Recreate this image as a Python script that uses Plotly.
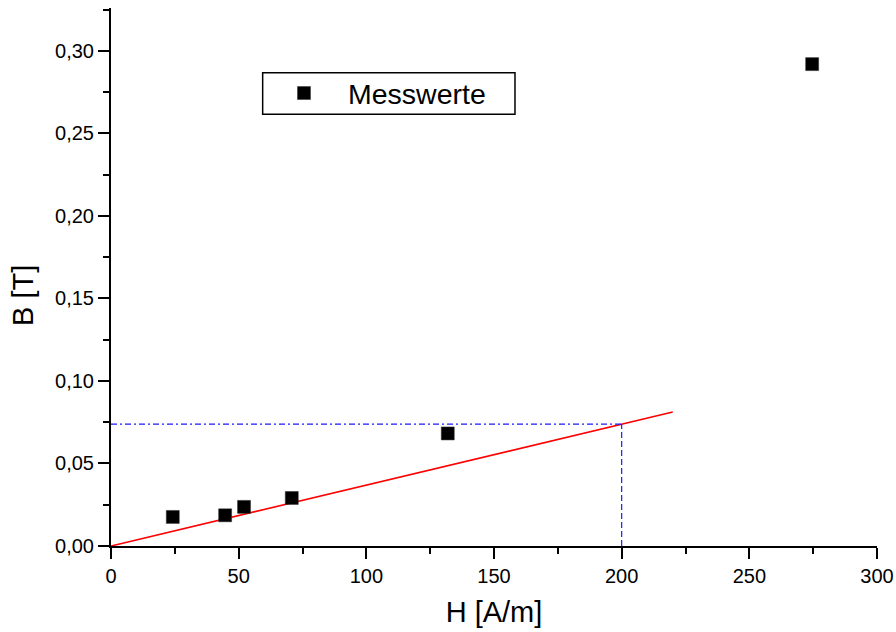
import plotly.graph_objects as go

# Measured magnetisation values
H_values = [24.2, 44.7, 52.1, 70.8, 131.9, 274.6]   # A/m
B_values = [0.0176, 0.0186, 0.0237, 0.0291, 0.0682, 0.292]  # T

# Linear fit through origin and reading at H = 200 A/m
fit_slope = 0.000369   # T per A/m
fit_H = [0, 220]
H_read = 200

fit_B = [fit_slope * h for h in fit_H]
B_read = fit_slope * H_read

FONT = "Arial, Liberation Sans, sans-serif"

fig = go.Figure()

# Red regression line
fig.add_trace(go.Scatter(
    x=fit_H, y=fit_B, mode="lines",
    line=dict(color="#ff0000", width=1.6),
    showlegend=False, hoverinfo="skip",
))

# Blue reading guides
fig.add_trace(go.Scatter(
    x=[0, H_read], y=[B_read, B_read], mode="lines",
    line=dict(color="#1a1aff", width=1.2, dash="6px,3px,2px,3px"),
    showlegend=False, hoverinfo="skip",
))
fig.add_trace(go.Scatter(
    x=[H_read, H_read], y=[0, B_read], mode="lines",
    line=dict(color="#1a1aff", width=1.2, dash="6px,3px"),
    showlegend=False, hoverinfo="skip",
))

# Measurement points
fig.add_trace(go.Scatter(
    x=H_values, y=B_values, mode="markers", name="Messwerte",
    marker=dict(symbol="square", size=13, color="black",
                line=dict(color="#333333", width=0.5)),
))

axis_common = dict(
    showline=True, linecolor="black", linewidth=2,
    ticks="outside", ticklen=11, tickwidth=2, tickcolor="black",
    showgrid=False, zeroline=False, mirror=False, automargin=False,
    tickfont=dict(family=FONT, size=20, color="black"),
)

fig.update_layout(
    width=896, height=632,
    margin=dict(l=111, r=19, t=8, b=86, autoexpand=False),
    plot_bgcolor="white", paper_bgcolor="white",
    separators=",.",
    font=dict(family=FONT, color="black"),
    xaxis=dict(
        range=[0, 300], tick0=0, dtick=50,
        minor=dict(dtick=25, ticks="outside", ticklen=6, tickwidth=2, tickcolor="black"),
        title=dict(text="H [A/m]", font=dict(family=FONT, size=29), standoff=16),
        **axis_common,
    ),
    yaxis=dict(
        range=[0, 0.326], tick0=0, dtick=0.05, tickformat=".2f",
        minor=dict(dtick=0.025, ticks="outside", ticklen=6, tickwidth=2, tickcolor="black"),
        **axis_common,
    ),
    legend=dict(
        x=0.1945, y=0.8885, xanchor="left", yanchor="top",
        borderwidth=0, bgcolor="rgba(0,0,0,0)",
        font=dict(family=FONT, size=28.5, color="black"),
        itemwidth=78,
    ),
    showlegend=True,
    # Legend frame
    shapes=[dict(
        type="rect", xref="paper", yref="paper",
        x0=0.198, x1=0.5274, y0=0.8024, y1=0.8797,
        line=dict(color="black", width=1.5), fillcolor="white", layer="below",
    )],
    # Rotated y-axis title
    annotations=[dict(
        text="B [T]", xref="paper", yref="paper",
        x=-0.115, y=0.4665, xanchor="center", yanchor="middle",
        textangle=-90, showarrow=False,
        font=dict(family=FONT, size=29, color="black"),
    )],
)

fig.write_html("out.html")
